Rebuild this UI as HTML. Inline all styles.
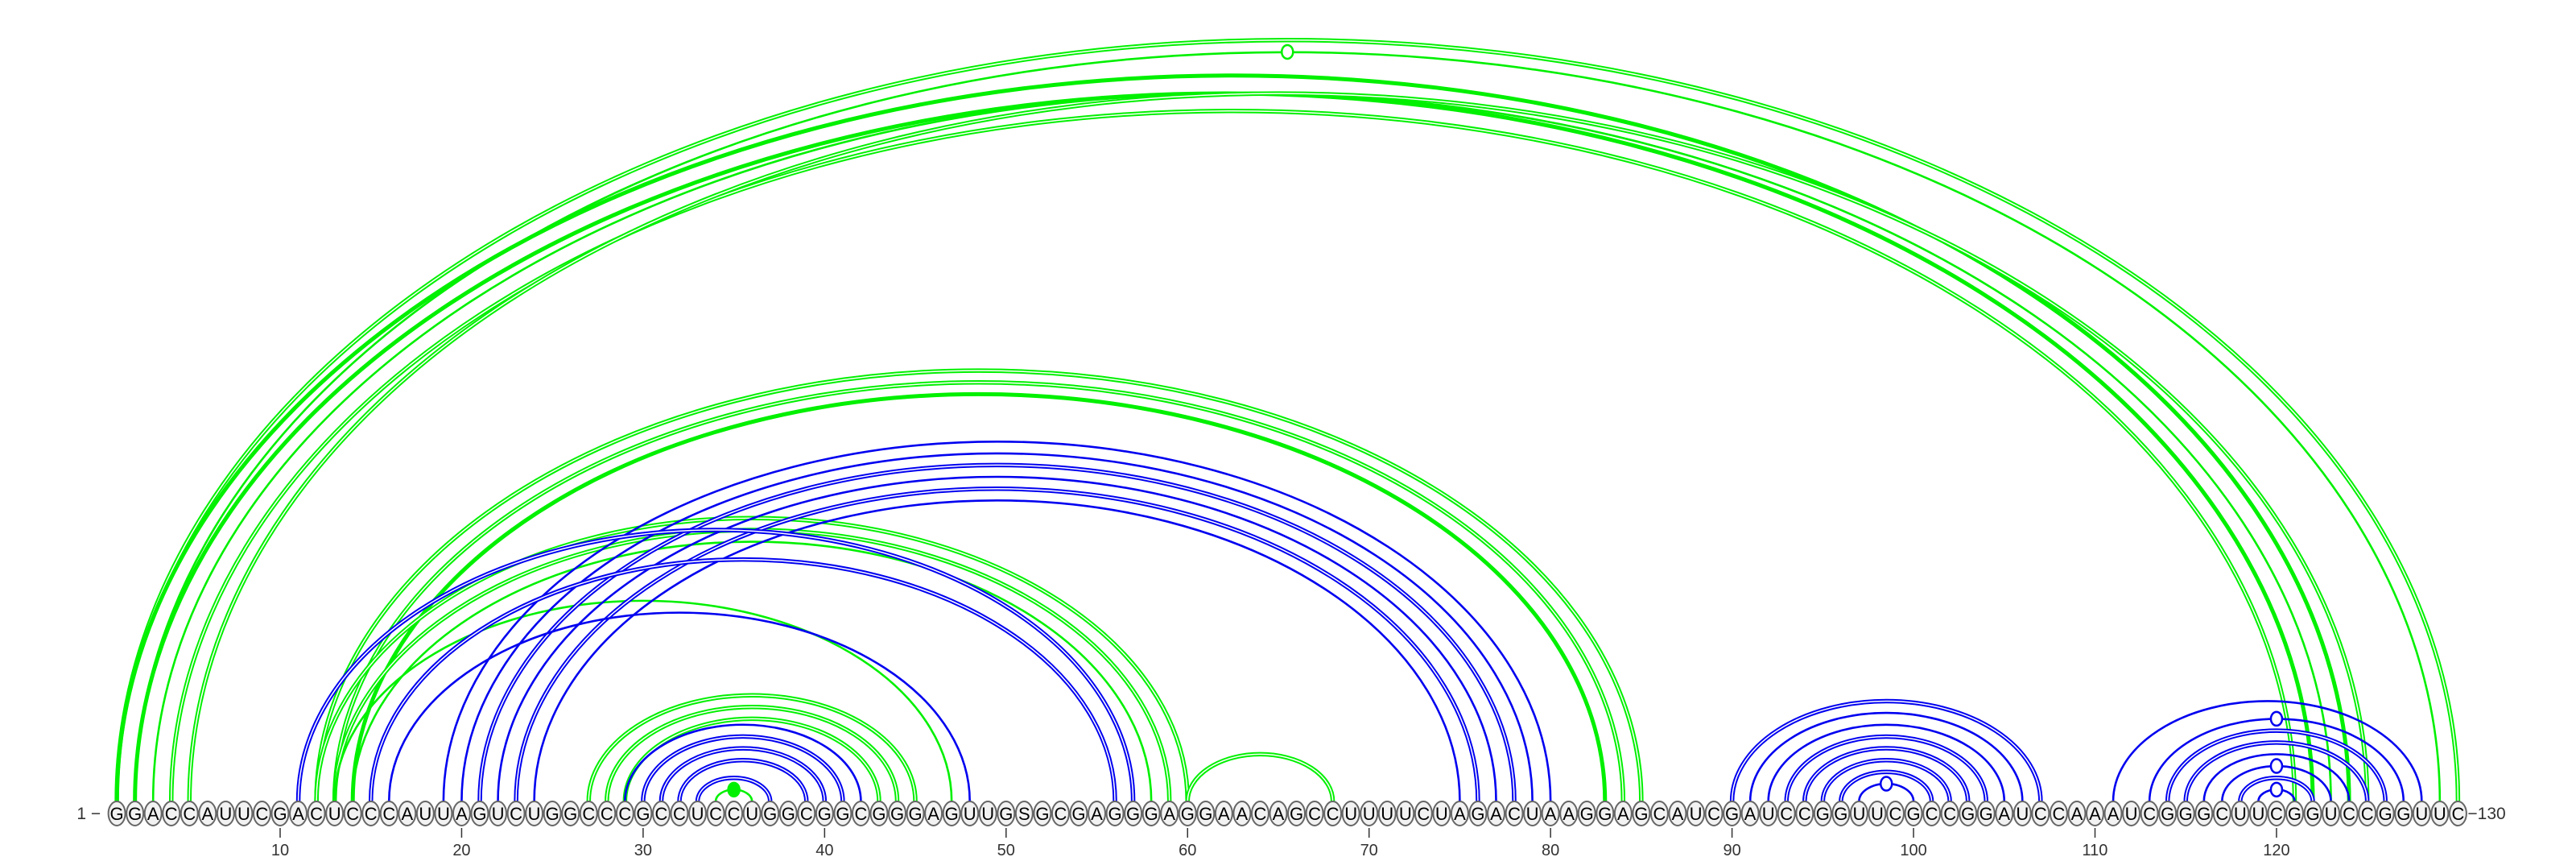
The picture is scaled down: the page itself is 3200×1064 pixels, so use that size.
<!DOCTYPE html>
<html><head><meta charset="utf-8"><style>
html,body{margin:0;padding:0;background:#fff}
svg{display:block}
text{font-family:"Liberation Sans",sans-serif}
</style></head><body>
<svg id="c" width="3200" height="1064" viewBox="0 0 3200 1064" xmlns="http://www.w3.org/2000/svg">
<g id="arcs"></g>
<g id="bases"></g>
<g id="axis"></g>
</svg>
<script>
const sequence = "GGACCAUUCGACUCCCAUUAGUCUGGCCCGCCUCCUGGCGGCGGGAGUUGSGCGAGGGAGGAACAGCCUUUUCUAGACUAAGGAGCAUCGAUCCGGUUCGCCGGAUCCAAAUCGGGCUUCGGUCCGGUUC";
const greenI = [1,2,1,2,3,4,5,12,13,14,12,13,14,13,27,28,29,34,60];
const greenJ = [130,129,124,122,123,121,125,85,84,83,60,59,58,47,45,44,43,36,68];
const greenStyle = ["dbl","mark","thick","thick","thin","dbl","dbl","dbl","dbl","thick","dbl","dbl","thin","thin","dbl","dbl","dbl","fill","dbl"];
const blueI = [19,20,21,22,23,24,11,15,16,29,30,31,32,33,90,91,92,93,94,95,96,97,111,113,114,115,116,117,118,119];
const blueJ = [80,79,78,77,76,75,57,56,48,42,41,40,39,37,107,106,105,104,103,102,101,100,128,127,126,125,124,123,122,121];
const blueStyle = ["thin","thin","dbl","thin","dbl","thin","dbl","dbl","thin","thin","dbl","dbl","dbl","dbl","dbl","thin","thin","dbl","dbl","dbl","dbl","mark","thin","mark","dbl","dbl","thin","mark","dbl","mark"];
const tickValues = [10,20,30,40,50,60,70,80,90,100,110,120];

const NS="http://www.w3.org/2000/svg";
const X0=348, DX=22.545, BY=1010, AY=995;
function xPos(i){return X0+(i-10)*DX;}
function mk(tag,attrs,parent){const e=document.createElementNS(NS,tag);for(const k in attrs)e.setAttribute(k,attrs[k]);parent.appendChild(e);return e;}
const arcs=document.getElementById('arcs');
function drawArc(i,j,style,color,nm){
  const x1=xPos(i),x2=xPos(j),rx=(x2-x1)/2,ry=0.325*(x2-x1);
  const d=`M${x1},${AY} A${rx},${ry} 0 0 1 ${x2},${AY}`;
  if(style==="dbl"){
    const p=mk('path',{d:d,fill:'none',stroke:color,'stroke-width':5.5},arcs);
    
    
    mk('path',{d:d,fill:'none',stroke:'#fff','stroke-width':1.5},arcs);
  } else {
    const w=style==="thick"?5:2.6;
    const p=mk('path',{d:d,fill:'none',stroke:color,'stroke-width':w},arcs);
    
    
  }
  if(style==="mark"||style==="fill"){
    const m=mk('ellipse',{cx:(x1+x2)/2,cy:AY-ry,rx:7,ry:8.5,fill:style==="fill"?color:'#fff',stroke:color,'stroke-width':2.5},arcs);
    
    
  }
}
for(let k=0;k<greenI.length;k++) drawArc(greenI[k],greenJ[k],greenStyle[k],'#00f000','green-pair-arc');
for(let k=0;k<blueI.length;k++) drawArc(blueI[k],blueJ[k],blueStyle[k],'#0000f0','blue-pair-arc');

const bases=document.getElementById('bases');
for(let i=1;i<=sequence.length;i++){
  const x=xPos(i);
  const e=mk('ellipse',{cx:x,cy:BY,rx:10.5,ry:15,fill:'#f2f2f2',stroke:'#666','stroke-width':2},bases);
  
  
  const t=mk('text',{x:x,y:BY+8,'text-anchor':'middle','font-size':22,fill:'#000'},bases);
  
  
  t.textContent=sequence[i-1];
}
const axis=document.getElementById('axis');
for(const v of tickValues){
  const x=xPos(v);
  const l=mk('line',{x1:x,y1:1028,x2:x,y2:1040,stroke:'#333','stroke-width':1.5},axis);
  
  
  const t=mk('text',{x:x,y:1062,'text-anchor':'middle','font-size':20,fill:'#333'},axis);
  
  
  t.textContent=v;
}
const s=mk('text',{x:xPos(1)-20,y:BY+7,'text-anchor':'end','font-size':21,fill:'#333'},axis);


s.textContent='1 \u2212';
const e2=mk('text',{x:xPos(130)+12,y:BY+7,'text-anchor':'start','font-size':21,fill:'#333'},axis);


e2.textContent='\u2212130';
</script>
</body></html>
